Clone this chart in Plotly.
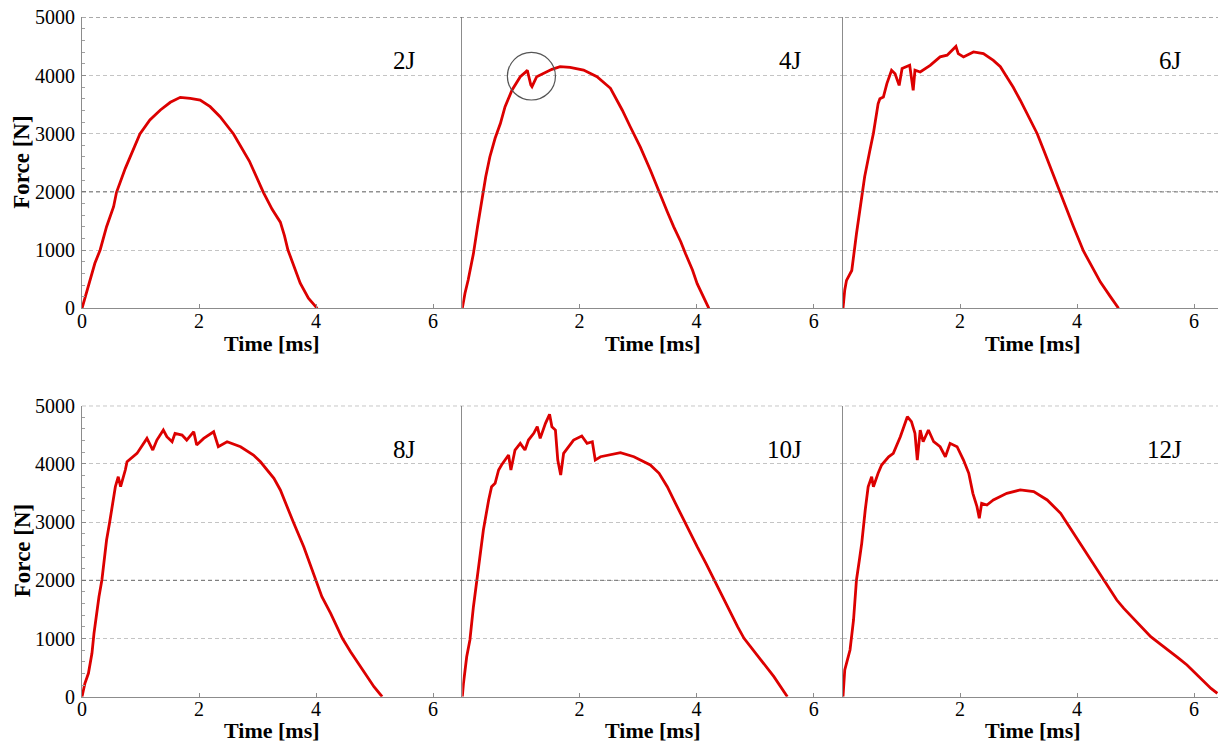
import plotly.graph_objects as go

# ---------------- data ----------------
t_2J = [0, 0.11, 0.22, 0.31, 0.42, 0.54, 0.59, 0.74, 0.88, 0.99, 1.16, 1.34, 1.51, 1.68, 1.85, 2.02,
        2.19, 2.36, 2.59, 2.86, 3.10, 3.25, 3.39, 3.46, 3.52, 3.62, 3.73, 3.87, 4.02]
f_2J = [0, 372, 773, 1002, 1402, 1746, 1993, 2405, 2749, 2995, 3235, 3407, 3540, 3625, 3608, 3579,
        3464, 3292, 2995, 2530, 1993, 1700, 1480, 1250, 1002, 715, 430, 172, 0]

t_4J = [0, 0.046, 0.10, 0.19, 0.26, 0.33, 0.40, 0.47, 0.56, 0.65, 0.73, 0.85, 0.99, 1.09, 1.11,
        1.17, 1.19, 1.27, 1.39, 1.53, 1.67, 1.84, 2.07, 2.30, 2.53, 2.73, 2.87, 3.04, 3.21, 3.36,
        3.50, 3.61, 3.73, 3.81, 3.93, 4.01, 4.13, 4.21]
f_4J = [0, 258, 486, 940, 1402, 1855, 2261, 2600, 2921, 3175, 3464, 3751, 3979, 4066, 4090,
        3837, 3808, 3979, 4037, 4106, 4151, 4140, 4094, 3979, 3780, 3407, 3115, 2770, 2376, 1990,
        1660, 1400, 1144, 940, 658, 424, 172, 0]

t_6J = [0, 0.03, 0.06, 0.15, 0.23, 0.32, 0.37, 0.46, 0.52, 0.60, 0.63, 0.69, 0.75, 0.83, 0.89, 0.96,
        1.01, 1.14, 1.20, 1.23, 1.32, 1.49, 1.66, 1.78, 1.93, 1.97, 2.06, 2.23, 2.40, 2.57, 2.69,
        2.80, 2.91, 3.03, 3.17, 3.32, 3.43, 3.54, 3.63, 3.72, 3.83, 3.94, 4.11, 4.26, 4.40, 4.57, 4.71]
f_6J = [0, 315, 480, 650, 1280, 1970, 2261, 2715, 3007, 3515, 3600, 3630, 3860, 4090, 4030, 3830,
        4120, 4175, 3745, 4090, 4060, 4175, 4320, 4350, 4500, 4375, 4320, 4405, 4375, 4260, 4151,
        3975, 3797, 3575, 3292, 3000, 2720, 2430, 2204, 1990, 1689, 1400, 985, 715, 450, 200, 0]

t_8J = [0, 0.05, 0.11, 0.17, 0.205, 0.25, 0.29, 0.34, 0.38, 0.42, 0.47, 0.51, 0.57, 0.62, 0.66, 0.74,
        0.77, 0.94, 1.11, 1.21, 1.28, 1.39, 1.45, 1.54, 1.59, 1.71, 1.79, 1.91, 1.96, 2.08, 2.25,
        2.33, 2.48, 2.71, 2.93, 3.05, 3.16, 3.28, 3.39, 3.50, 3.62, 3.79, 3.99, 4.10, 4.25, 4.45,
        4.59, 4.76, 4.88, 4.99, 5.13]
f_8J = [0, 230, 402, 745, 1089, 1433, 1718, 2005, 2349, 2692, 2979, 3265, 3608, 3780, 3608, 3895,
        4037, 4180, 4438, 4238, 4410, 4582, 4467, 4381, 4525, 4496, 4410, 4553, 4324, 4438, 4553,
        4295, 4381, 4295, 4152, 4037, 3895, 3752, 3552, 3265, 2979, 2577, 2005, 1718, 1433, 1003,
        773, 515, 344, 172, 0]

t_10J = [0, 0.02, 0.075, 0.13, 0.19, 0.25, 0.27, 0.36, 0.45, 0.50, 0.56, 0.62, 0.67, 0.79, 0.83, 0.90,
         0.99, 1.07, 1.13, 1.22, 1.28, 1.33, 1.42, 1.49, 1.53, 1.59, 1.63, 1.68, 1.73, 1.82, 1.90,
         2.04, 2.13, 2.22, 2.27, 2.36, 2.70, 2.93, 3.21, 3.36, 3.50, 3.64, 3.78, 3.90, 4.01, 4.16,
         4.30, 4.44, 4.58, 4.70, 4.81, 4.96, 5.10, 5.32, 5.44, 5.55]
f_10J = [0, 230, 687, 974, 1546, 2005, 2234, 2864, 3380, 3608, 3666, 3895, 3981, 4152, 3895, 4238,
         4353, 4238, 4410, 4525, 4639, 4438, 4697, 4852, 4639, 4582, 4066, 3809, 4181, 4295, 4410,
         4479, 4353, 4381, 4066, 4123, 4192, 4123, 3981, 3838, 3608, 3322, 3036, 2807, 2577, 2291,
         2005, 1718, 1433, 1203, 1003, 802, 630, 344, 172, 0]

t_12J = [0, 0.02, 0.03, 0.09, 0.12, 0.18, 0.21, 0.23, 0.28, 0.32, 0.38, 0.43, 0.49, 0.52, 0.60, 0.66,
         0.78, 0.86, 0.98, 1.10, 1.17, 1.23, 1.27, 1.32, 1.37, 1.46, 1.55, 1.66, 1.75, 1.83, 1.95,
         2.06, 2.15, 2.22, 2.29, 2.33, 2.37, 2.46, 2.57, 2.80, 3.03, 3.26, 3.49, 3.72, 3.83, 3.94,
         4.06, 4.17, 4.32, 4.46, 4.57, 4.68, 4.80, 4.91, 5.09, 5.26, 5.43, 5.60, 5.74, 5.88, 6.03,
         6.17, 6.29, 6.40]
f_12J = [0, 286, 459, 687, 802, 1318, 1661, 2005, 2349, 2635, 3208, 3608, 3780, 3608, 3838, 3981,
         4123, 4181, 4467, 4811, 4725, 4525, 4066, 4582, 4381, 4582, 4381, 4295, 4123, 4353, 4295,
         4066, 3838, 3494, 3265, 3065, 3322, 3294, 3380, 3494, 3552, 3523, 3380, 3151, 2979, 2807,
         2635, 2464, 2234, 2005, 1833, 1661, 1518, 1404, 1203, 1031, 898, 773, 659, 544, 401,
         258, 143, 57]

series = [("2J", t_2J, f_2J), ("4J", t_4J, f_4J), ("6J", t_6J, f_6J),
          ("8J", t_8J, f_8J), ("10J", t_10J, f_10J), ("12J", t_12J, f_12J)]

y_ticks = [0, 1000, 2000, 3000, 4000, 5000]
x_ticks_first = [0, 2, 4, 6]
x_ticks_other = [2, 4, 6]

# ---------------- layout geometry ----------------
W, H = 1218, 742
x_domains = [[82 / W, 462.3 / W], [462.3 / W, 843 / W], [843 / W, 1.0]]
x_ranges = [[0, 6.5], [0, 6.5], [0, 6.41]]
y_domains = [[1 - 308.3 / H, 1 - 17.3 / H], [1 - 696.7 / H, 1 - 405.7 / H]]
label_x = [5.74, 5.83, 5.83]
title_px = [343.0, 730.5]   # vertical centre (px from top) of the "Time [ms]" titles
tick_standoff = [-5, -6]

FONT = "Liberation Serif, Times New Roman, serif"
RED = "#dc0000"
AXIS_COL = "#8c8c8c"
GRID_LIGHT = "#c4c4c4"
GRID_DARK = "#707070"

fig = go.Figure()
layout = dict(width=W, height=H, margin=dict(l=0, r=0, t=0, b=0, pad=0),
              paper_bgcolor="white", plot_bgcolor="white", showlegend=False,
              font=dict(family=FONT, color="black"))
shapes = []
annotations = []

for i, (name, t, f) in enumerate(series):
    r, c = divmod(i, 3)
    k = i + 1
    xa = "x" if k == 1 else f"x{k}"
    ya = "y" if k == 1 else f"y{k}"
    fig.add_trace(go.Scatter(x=t, y=f, mode="lines", xaxis=xa, yaxis=ya,
                             line=dict(color=RED, width=2.8), hoverinfo="skip"))
    xkey = "xaxis" if k == 1 else f"xaxis{k}"
    ykey = "yaxis" if k == 1 else f"yaxis{k}"
    layout[xkey] = dict(domain=x_domains[c], range=x_ranges[c], anchor=ya, automargin=False,
                        tickvals=x_ticks_first if c == 0 else x_ticks_other,
                        ticks="inside", ticklen=4, tickcolor=AXIS_COL,
                        ticklabelstandoff=tick_standoff[r],
                        showline=True, linecolor=AXIS_COL, linewidth=1,
                        showgrid=False, zeroline=False,
                        tickfont=dict(family=FONT, size=20, color="black"))
    layout[ykey] = dict(domain=y_domains[r], range=[0, 5000], anchor=xa, automargin=False,
                        tickvals=y_ticks, showticklabels=(c == 0),
                        ticks="inside" if c == 0 else "", ticklen=4, tickcolor=AXIS_COL,
                        ticklabelstandoff=2,
                        minor=dict(dtick=200, ticks="inside" if c == 0 else "", ticklen=3,
                                   tickcolor="#a0a0a0", showgrid=False),
                        showline=True, linecolor=AXIS_COL, linewidth=1,
                        showgrid=True, gridcolor=GRID_LIGHT, griddash="4px,3px", gridwidth=1,
                        zeroline=False,
                        tickfont=dict(family=FONT, size=20, color="black"))
    # panel energy label
    annotations.append(dict(x=label_x[c], y=4250, xref=xa, yref=ya, text=name,
                            showarrow=False, xanchor="right", yanchor="middle",
                            font=dict(family=FONT, size=25, color="black")))
    # x axis title
    annotations.append(dict(x=3.25, y=1 - title_px[r] / H, xref=xa, yref="paper",
                            text="<b>Time [ms]</b>", showarrow=False,
                            xanchor="center", yanchor="middle",
                            font=dict(family=FONT, size=22, color="black")))

# darker gridlines at 2000 and 5000 across each row
for r in range(2):
    ya = "y" if r == 0 else "y4"
    for yv in (2000, 5000):
        shapes.append(dict(type="line", xref="paper", yref=ya, x0=x_domains[0][0], x1=1.0,
                           y0=yv, y1=yv, layer="above",
                           line=dict(color=GRID_DARK, width=1, dash="4px,3px")))
    annotations.append(dict(x=22 / W, y=(y_domains[r][0] + y_domains[r][1]) / 2,
                            xref="paper", yref="paper", text="<b>Force [N]</b>",
                            textangle=-90, showarrow=False, xanchor="center", yanchor="middle",
                            font=dict(family=FONT, size=23, color="black")))

# circle highlighting the first load drop in the 4J curve
shapes.append(dict(type="circle", xref="x2", yref="y2", x0=1.18 - 0.41, x1=1.18 + 0.41,
                   y0=3988 - 409, y1=3988 + 409, line=dict(color="#555555", width=1.2)))

layout["shapes"] = shapes
layout["annotations"] = annotations
fig.update_layout(**layout)
fig.write_html("out.html")
